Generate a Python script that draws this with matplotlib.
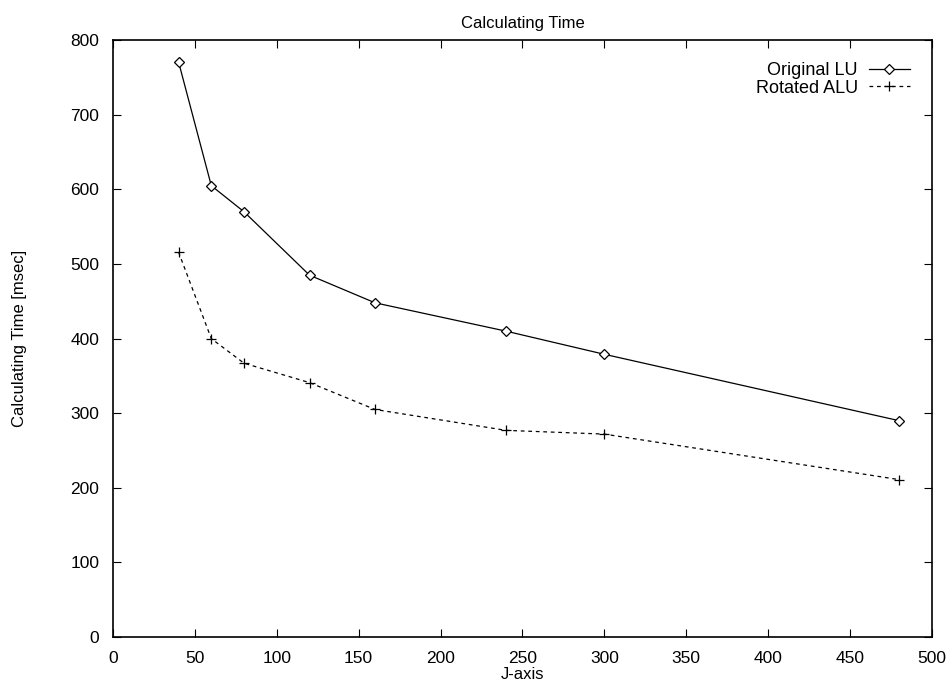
import matplotlib
matplotlib.use("Agg")
import matplotlib.pyplot as plt

plt.rcParams['font.family'] = ['Liberation Sans', 'DejaVu Sans']

j_axis = [40, 60, 80, 120, 160, 240, 300, 480]
original_lu = [771, 605, 570, 485, 448, 410, 379, 290]
rotated_alu = [516, 400, 367, 341, 305, 277, 272, 211]

fig = plt.figure(figsize=(9.46, 6.82), dpi=100)
ax = fig.add_axes([0.1195, 0.066, 0.8655, 0.875])

ax.plot(j_axis, original_lu, color='black', lw=0.9, marker='D', markersize=5.5,
        markerfacecolor='white', markeredgecolor='black', markeredgewidth=0.9,
        label='Original LU')
ax.plot(j_axis, rotated_alu, color='black', lw=0.9, ls=(0, (3, 3)), marker='+',
        markersize=7, markeredgewidth=0.9, label='Rotated ALU')

ax.set_xlim(0, 500)
ax.set_ylim(0, 800)
ax.set_xticks(range(0, 501, 50))
ax.set_yticks(range(0, 801, 100))
ax.tick_params(direction='in', top=True, right=True, length=6, labelsize=12.5, pad=10)
for s in ax.spines.values():
    s.set_linewidth(1.2)

ax.set_title('Calculating Time', fontsize=12, pad=9)
ax.set_xlabel('J-axis', fontsize=12, labelpad=0.5)
ax.set_ylabel('Calculating Time [msec]', fontsize=12, labelpad=31)

ax.legend(loc='upper right', frameon=False, markerfirst=False, fontsize=13,
          handlelength=2.3, borderaxespad=0.8, labelspacing=0.05, handletextpad=0.6)

fig.savefig('out.png', dpi=100)
